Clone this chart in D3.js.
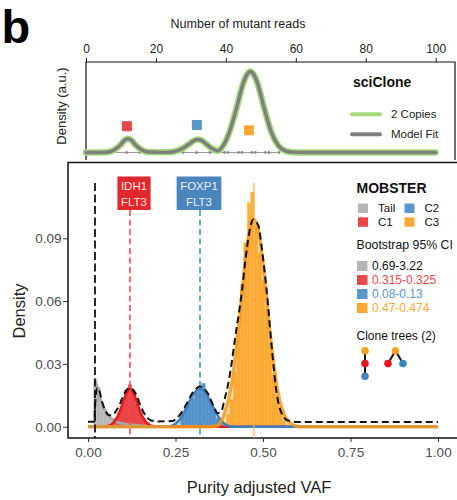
<!DOCTYPE html>
<html>
<head>
<meta charset="utf-8">
<script src="https://cdn.jsdelivr.net/npm/d3@7"></script>
<style>
  body { margin: 0; background: #fff; }
  svg { display: block; font-family: "Liberation Sans", Arial, Helvetica, sans-serif; }
</style>
</head>
<body>
<div id="chart"></div>
<script>
//Datos - panel superior (sciClone)
const readTicks = [0, 20, 40, 60, 80, 100];
const sciCloneFit = [[0,0],[6,0.004],[8,0.03],[10,0.10],[11,0.15],[12,0.17],[13,0.15],[14,0.10],[16,0.03],[18,0.006],[22,0.002],[25,0.01],[28,0.06],[30,0.12],[31,0.15],[32,0.16],[33,0.15],[34,0.12],[36,0.05],[37.7,0.02],[39,0.07],[41,0.25],[43,0.54],[45,0.86],[46,0.96],[47,1.0],[48,0.96],[49,0.86],[51,0.54],[53,0.25],[55,0.085],[57,0.02],[59,0.004],[62,0],[100,0]];
const sciCloneReads = [11.6, 15.4, 20.2, 27.8, 31.6, 35.4, 39.6, 40.6, 43.6, 44.6, 47.4, 48.4, 51.3, 52.3, 55.2];
const sciCloneCentres = [['C1', 11.7, 0.325], ['C2', 31.7, 0.34], ['C3', 46.6, 0.275]];
const sciCloneLegend = ['2 Copies', 'Model Fit'];

//Datos - panel inferior (MOBSTER)
const clusters = ['Tail', 'C1', 'C2', 'C3'];
const vafTicks = [0, 0.25, 0.5, 0.75, 1];
const densityTicks = [0, 0.03, 0.06, 0.09];
const binWidth = 0.01;
const histTail = [[0.02,0.022],[0.03,0.019],[0.04,0.011],[0.05,0.008],[0.06,0.005],[0.07,0.003],[0.08,0.002],[0.09,0.001]];
const histC1 = [[0.08,0.004],[0.09,0.007],[0.10,0.012],[0.11,0.0175],[0.12,0.020],[0.13,0.016],[0.14,0.011],[0.15,0.0065],[0.16,0.004],[0.17,0.002]];
const histC2 = [[0.27,0.0065],[0.28,0.009],[0.29,0.011],[0.30,0.0135],[0.31,0.0167],[0.32,0.0185],[0.33,0.0207],[0.34,0.0143],[0.35,0.012],[0.36,0.008],[0.37,0.004],[0.38,0.002]];
const histC3 = [[0.40,0.006],[0.41,0.013],[0.42,0.026],[0.43,0.045],[0.44,0.068],[0.45,0.088],[0.46,0.107],[0.47,0.112],[0.48,0.096],[0.49,0.083],[0.50,0.070],[0.51,0.056],[0.52,0.040],[0.53,0.025],[0.54,0.015],[0.55,0.008],[0.56,0.003]];
const fitTail = [[0.02,0.023],[0.025,0.02],[0.03,0.016],[0.04,0.011],[0.05,0.0075],[0.06,0.005],[0.07,0.0035],[0.08,0.0025],[0.10,0.0015],[0.15,0.0006],[0.2,0.0002],[0.3,0],[1,0]];
const fitC1 = [[0,0],[0.04,0],[0.06,0.0005],[0.08,0.0035],[0.09,0.0068],[0.10,0.0117],[0.11,0.016],[0.115,0.0173],[0.12,0.0178],[0.125,0.0173],[0.13,0.016],[0.14,0.0117],[0.15,0.0068],[0.16,0.0035],[0.18,0.0005],[0.2,0],[1,0]];
const fitC2 = [[0,0],[0.22,0],[0.24,0.0005],[0.26,0.003],[0.27,0.0055],[0.28,0.0085],[0.29,0.012],[0.30,0.0152],[0.31,0.0173],[0.32,0.018],[0.33,0.0173],[0.34,0.0152],[0.35,0.012],[0.36,0.0085],[0.37,0.0055],[0.38,0.003],[0.40,0.0005],[0.42,0],[1,0]];
const fitC3 = [[0,0],[0.35,0],[0.37,0.0005],[0.39,0.0065],[0.41,0.020],[0.43,0.047],[0.45,0.080],[0.46,0.092],[0.474,0.099],[0.49,0.091],[0.50,0.078],[0.52,0.045],[0.54,0.019],[0.56,0.006],[0.58,0.0015],[0.60,0],[1,0]];
const mixture = [[0,0.0024],[0.018,0.0024],[0.021,0.012],[0.026,0.0185],[0.031,0.018],[0.04,0.012],[0.05,0.0075],[0.06,0.0055],[0.07,0.0055],[0.08,0.0075],[0.09,0.0105],[0.10,0.0145],[0.11,0.0175],[0.12,0.0185],[0.13,0.0175],[0.14,0.0145],[0.15,0.010],[0.16,0.0065],[0.17,0.0042],[0.18,0.003],[0.20,0.0025],[0.24,0.0027],[0.26,0.0052],[0.28,0.0105],[0.30,0.0165],[0.32,0.0192],[0.34,0.0165],[0.36,0.0095],[0.37,0.0065],[0.38,0.007],[0.39,0.013],[0.40,0.02],[0.41,0.03],[0.42,0.042],[0.44,0.065],[0.45,0.080],[0.46,0.092],[0.472,0.099],[0.487,0.096],[0.496,0.086],[0.511,0.064],[0.525,0.038],[0.539,0.016],[0.553,0.0065],[0.57,0.003],[0.60,0.0022],[1,0.0022]];
const tailCutoff = 0.02;
const clusterMeans = [['C1', 0.12], ['C2', 0.32], ['C3', 0.474]];
const driverLabels = [['C1', ['IDH1', 'FLT3']], ['C2', ['FOXP1', 'FLT3']]];
const bootstrapCI = ['0.69-3.22', '0.315-0.325', '0.08-0.13', '0.47-0.474'];
const cloneTrees = [
    {name: 'C3', children: [{name: 'C1', children: [{name: 'C2'}]}]},
    {name: 'C3', children: [{name: 'C1'}, {name: 'C2'}]}
];

//Colores
const COLOR_TAIL = '#b3b3b3', COLOR_C1 = '#e8383d', COLOR_C2 = '#4a89c4', COLOR_C3 = '#fca42c';
const legendColor = d3.scaleOrdinal().domain(clusters).range(['#b5b5b5', '#e8474b', '#5a96c9', '#fba832']);
const fillColor = d3.scaleOrdinal().domain(clusters).range([COLOR_TAIL, COLOR_C1, COLOR_C2, COLOR_C3]);
const lineColor = d3.scaleOrdinal().domain(clusters).range(['#a8a8a8', '#e41a1c', '#3f7fbf', '#f39a1e']);
const nodeColor = d3.scaleOrdinal().domain(clusters).range(['#aaa', '#e3161d', '#3f84c2', '#f6a21f']);

const width = 457, height = 500;
const svg = d3.select('#chart').append('svg').attr('width', width).attr('height', height);
svg.append('rect').attr('width', width).attr('height', height).attr('fill', '#fff');

/////
// Panel superior
/////
const xTop = d3.scaleLinear().domain([0, 100]).range([86, 435.7]);
const yTop = d3.scaleLinear().domain([0, 1]).range([152.5, 71.5]);

svg.append('text').attr('x', 1.5).attr('y', 43).attr('font-size', 47).attr('font-weight', 'bold').attr('fill', '#000').text('b');

svg.append('text').attr('x', 238).attr('y', 28).attr('text-anchor', 'middle').attr('font-size', 12.5).attr('fill', '#222').text('Number of mutant reads');

let topAxis = svg.append('g')
    .attr('transform', 'translate(0,62)')
    .call(d3.axisTop(xTop).tickValues(readTicks).tickSize(4).tickPadding(5));
topAxis.select('.domain').remove();
topAxis.selectAll('text').attr('font-size', 12).attr('fill', '#222').attr('font-family', null);
topAxis.selectAll('line').attr('stroke', '#222');

svg.append('path')
    .attr('d', 'M86,160V62H455V160')
    .attr('fill', 'none').attr('stroke', '#111').attr('stroke-width', 1.2);

svg.append('text')
    .attr('transform', 'translate(66,106) rotate(-90)')
    .attr('text-anchor', 'middle').attr('font-size', 13).attr('fill', '#222')
    .text('Density (a.u.)');

//Rug de lecturas
svg.append('line')
    .attr('x1', xTop(0)).attr('x2', xTop(d3.max(sciCloneReads)))
    .attr('y1', yTop(0)).attr('y2', yTop(0))
    .attr('stroke', '#9a9a9a').attr('stroke-width', 1);
svg.selectAll('.read').data(sciCloneReads).join('circle')
    .attr('class', 'read')
    .attr('cx', d => xTop(d)).attr('cy', yTop(0)).attr('r', 1.4).attr('fill', '#8a8a8a');

let topLine = d3.line().x(d => xTop(d[0])).y(d => yTop(d[1])).curve(d3.curveMonotoneX);
svg.append('path').datum(sciCloneFit).attr('d', topLine)
    .attr('fill', 'none').attr('stroke', '#a6d97c').attr('stroke-width', 6.5).attr('stroke-linecap', 'round');
svg.append('path').datum(sciCloneFit).attr('d', topLine)
    .attr('fill', 'none').attr('stroke', '#7f7f7f').attr('stroke-width', 3.4).attr('stroke-linecap', 'round');

svg.selectAll('.centre').data(sciCloneCentres).join('rect')
    .attr('class', 'centre')
    .attr('x', d => xTop(d[1]) - 5).attr('y', d => yTop(d[2]) - 5)
    .attr('width', 10).attr('height', 10)
    .attr('fill', d => legendColor(d[0]));

//Leyenda sciClone
svg.append('text').attr('x', 353).attr('y', 87).attr('font-size', 14).attr('font-weight', 'bold').attr('fill', '#111').text('sciClone');
sciCloneLegend.forEach(function(lab, i) {
    let yy = 114.3 + i * 20;
    svg.append('line').attr('x1', 352).attr('x2', 380).attr('y1', yy).attr('y2', yy)
        .attr('stroke', i == 0 ? '#a6d97c' : '#7f7f7f').attr('stroke-width', 4).attr('stroke-linecap', 'round');
    svg.append('text').attr('x', 391).attr('y', yy + 3.8).attr('font-size', 11.5).attr('fill', '#222').text(lab);
});

/////
// Panel inferior
/////
const x = d3.scaleLinear().domain([0, 1]).range([88, 438]);
const y = d3.scaleLinear().domain([0, 0.09]).range([426.7, 238.3]);

svg.append('path')
    .attr('d', 'M470,162.5H68V438H470')
    .attr('fill', 'none').attr('stroke', '#111').attr('stroke-width', 1.5);

let xAxis = svg.append('g')
    .attr('transform', 'translate(0,438)')
    .call(d3.axisBottom(x).tickValues(vafTicks).tickFormat(d3.format('.2f')).tickSize(4).tickPadding(5));
xAxis.select('.domain').remove();
xAxis.selectAll('text').attr('font-size', 13.5).attr('fill', '#4d4d4d').attr('font-family', null);
xAxis.selectAll('line').attr('stroke', '#333');

let yAxis = svg.append('g')
    .attr('transform', 'translate(68,0)')
    .call(d3.axisLeft(y).tickValues(densityTicks).tickFormat(d3.format('.2f')).tickSize(5).tickPadding(1.5));
yAxis.select('.domain').remove();
yAxis.selectAll('text').attr('font-size', 13.5).attr('fill', '#4d4d4d').attr('font-family', null);
yAxis.selectAll('line').attr('stroke', '#333');

svg.append('text').attr('x', 259).attr('y', 493).attr('text-anchor', 'middle').attr('font-size', 16.5).attr('fill', '#222').text('Purity adjusted VAF');
svg.append('text').attr('transform', 'translate(25,311) rotate(-90)').attr('text-anchor', 'middle').attr('font-size', 16.5).attr('fill', '#222').text('Density');

//Histograma
const hists = [['Tail', histTail], ['C1', histC1], ['C2', histC2], ['C3', histC3]];
hists.forEach(function(h) {
    svg.append('g').selectAll('rect').data(h[1]).join('rect')
        .attr('x', d => x(d[0] - binWidth / 2))
        .attr('width', x(binWidth) - x(0))
        .attr('y', d => y(d[1]))
        .attr('height', d => y(0) - y(d[1]))
        .attr('fill', fillColor(h[0]))
        .attr('fill-opacity', 0.9)
        .attr('stroke', d3.color(fillColor(h[0])).brighter(0.5))
        .attr('stroke-width', 0.4);
});

//Densidades de cada componente
const fits = [['Tail', fitTail], ['C1', fitC1], ['C2', fitC2], ['C3', fitC3]];
let area = d3.area().x(d => x(d[0])).y0(y(0)).y1(d => y(d[1])).curve(d3.curveMonotoneX);
let line = d3.line().x(d => x(d[0])).y(d => y(d[1])).curve(d3.curveMonotoneX);
fits.forEach(function(f) {
    svg.append('path').datum(f[1]).attr('d', area)
        .attr('fill', fillColor(f[0])).attr('fill-opacity', 0.35);
});
fits.forEach(function(f) {
    svg.append('path').datum(f[1]).attr('d', line)
        .attr('fill', 'none').attr('stroke', lineColor(f[0]))
        .attr('stroke-width', f[0] == 'C3' ? 3.4 : 2.6)
        .attr('stroke-opacity', f[0] == 'C3' ? 0.85 : 1);
});

//Lineas verticales
const vTop = 183;
svg.append('line').attr('x1', x(tailCutoff)).attr('x2', x(tailCutoff)).attr('y1', vTop).attr('y2', 438)
    .attr('stroke', '#111').attr('stroke-width', 1.8).attr('stroke-dasharray', '8,3.5');

clusterMeans.forEach(function(c) {
    let col = c[0] == 'C1' ? '#ee4a4f' : (c[0] == 'C2' ? '#4a8cc8' : '#ffb347');
    svg.append('line').attr('class', 'vline-' + c[0])
        .attr('x1', x(c[1])).attr('x2', x(c[1]))
        .attr('y1', c[0] == 'C3' ? vTop : 210).attr('y2', 438)
        .attr('stroke', col).attr('stroke-width', c[0] == 'C3' ? 1.2 : 1.6)
        .attr('stroke-dasharray', c[0] == 'C3' ? null : '6,3.5');
});

//Mezcla
svg.append('path').datum(mixture).attr('d', line)
    .attr('fill', 'none').attr('stroke', '#111').attr('stroke-width', 2).attr('stroke-dasharray', '7,4');

//Etiquetas de drivers (desplazadas como en ggrepel)
driverLabels.forEach(function(dl) {
    let nudge = dl[0] == 'C1' ? 4 : -1;
    let xc = x(clusterMeans.find(c => c[0] == dl[0])[1]) + nudge;
    let g = svg.append('g');
    let t = g.append('text').attr('text-anchor', 'middle').attr('font-size', 11.5).attr('fill', '#fff').attr('fill-opacity', 0.92);
    dl[1].forEach(function(s, i) {
        t.append('tspan').attr('x', xc).attr('y', 190 + i * 15.5).text(s);
    });
    let bb = t.node().getBBox();
    g.insert('rect', 'text')
        .attr('x', xc - bb.width / 2 - 3.5).attr('y', 176.5)
        .attr('width', bb.width + 7).attr('height', 33.5)
        .attr('fill', dl[0] == 'C1' ? '#e2272d' : '#4a86bd');
});

/////
// Leyenda MOBSTER
/////
svg.append('text').attr('x', 356.5).attr('y', 193).attr('font-size', 14).attr('font-weight', 'bold').attr('fill', '#111').text('MOBSTER');
clusters.forEach(function(cl, i) {
    let col = Math.floor(i / 2), row = i % 2;
    let lx = 358 + col * 46.5, ly = 203.5 + row * 13.8;
    svg.append('rect').attr('x', lx).attr('y', ly).attr('width', 10).attr('height', 9.5).attr('fill', legendColor(cl));
    svg.append('text').attr('x', lx + 20).attr('y', ly + 8.5).attr('font-size', 11.5).attr('fill', '#111').text(cl);
});

svg.append('text').attr('x', 356.5).attr('y', 249).attr('font-size', 12.3).attr('fill', '#111').text('Bootstrap 95% CI');
bootstrapCI.forEach(function(ci, i) {
    let ly = 261 + i * 14;
    svg.append('rect').attr('x', 357).attr('y', ly).attr('width', 10.5).attr('height', 10).attr('fill', legendColor(clusters[i]));
    svg.append('text').attr('x', 372).attr('y', ly + 9.2).attr('font-size', 12).attr('fill', i == 0 ? '#111' : legendColor(clusters[i])).text(ci);
});

svg.append('text').attr('x', 356.5).attr('y', 340).attr('font-size', 12).attr('fill', '#111').text('Clone trees (2)');

let treeLayout = d3.tree().nodeSize([15, 12.8]);
cloneTrees.forEach(function(t, i) {
    let root = treeLayout(d3.hierarchy(t));
    let g = svg.append('g').attr('transform', 'translate(' + (365 + i * 30.5) + ',350.7)');
    g.selectAll('line').data(root.links()).join('line')
        .attr('x1', d => d.source.x).attr('y1', d => d.source.y)
        .attr('x2', d => d.target.x).attr('y2', d => d.target.y)
        .attr('stroke', '#111').attr('stroke-width', 2);
    g.selectAll('circle').data(root.descendants()).join('circle')
        .attr('cx', d => d.x).attr('cy', d => d.y).attr('r', 3.8)
        .attr('fill', d => nodeColor(d.data.name));
});
</script>
</body>
</html>
